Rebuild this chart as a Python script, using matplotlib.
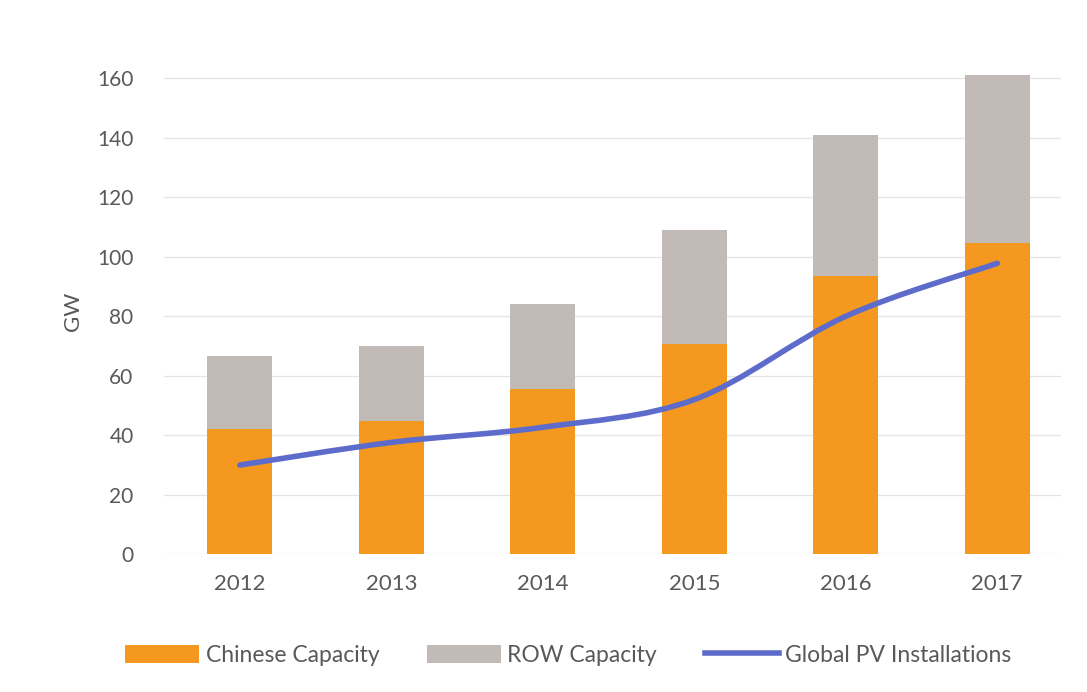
import matplotlib

matplotlib.use("Agg")

import matplotlib.pyplot as plt
import numpy as np
from matplotlib.lines import Line2D
from matplotlib.patches import PathPatch
from matplotlib.path import Path

years = ["2012", "2013", "2014", "2015", "2016", "2017"]
chinese_capacity = [42, 44.7, 55.5, 70.6, 93.4, 104.5]
row_capacity = [24.5, 25.3, 28.5, 38.4, 47.6, 56.5]
global_installs = [30, 37.6, 42.7, 52, 80, 97.8]

ORANGE = "#F4981F"
GRAY = "#C1BAB6"
BLUE = "#5D6CCB"
TEXT = "#595959"

plt.rcParams["font.family"] = ["Lato", "DejaVu Sans"]


def smooth_path(xs, ys):
    # Catmull-Rom style cubic segments through every point (like a smoothed line)
    pts = np.column_stack([xs, ys]).astype(float)
    verts = [pts[0]]
    codes = [Path.MOVETO]
    for i in range(len(pts) - 1):
        p0 = pts[max(i - 1, 0)]
        p1 = pts[i]
        p2 = pts[i + 1]
        p3 = pts[min(i + 2, len(pts) - 1)]
        verts += [p1 + (p2 - p0) / 6, p2 - (p3 - p1) / 6, p2]
        codes += [Path.CURVE4] * 3
    return Path(verts, codes)


fig = plt.figure(figsize=(10.87, 6.92), dpi=100)
ymax = 163
ax = fig.add_axes([0.151, 0.199, 0.825, 0.688 * ymax / 160])

x = np.arange(len(years))
width = 0.43
ax.bar(x, chinese_capacity, width, color=ORANGE, label="Chinese Capacity", zorder=2)
ax.bar(x, row_capacity, width, bottom=chinese_capacity, color=GRAY,
       label="ROW Capacity", zorder=2)
ax.add_patch(PathPatch(smooth_path(x, global_installs), fill=False, edgecolor=BLUE,
                       lw=4, capstyle="round", zorder=3))

ax.set_xlim(-0.5, 5.42)
ax.set_ylim(0, ymax)
ax.set_yticks(np.arange(0, 161, 20))
ax.set_xticks(x)
ax.set_xticklabels(years)
ax.tick_params(length=0, labelsize=15, colors=TEXT)
ax.tick_params(axis="x", labelsize=16, pad=14)
ax.tick_params(axis="y", pad=22)
ax.grid(axis="y", color="#E4E4E4", lw=0.9, zorder=0)
for s in ax.spines.values():
    s.set_visible(False)
ax.set_ylabel("GW", fontsize=16, color=TEXT, labelpad=10)

handles, labels = ax.get_legend_handles_labels()
line_handle = Line2D([], [], color=BLUE, lw=4)
fig.legend(handles + [line_handle], labels + ["Global PV Installations"],
           loc="center", bbox_to_anchor=(0.523, 0.053), ncol=3, frameon=False,
           fontsize=16.5, labelcolor=TEXT, handlelength=3.2, handleheight=0.8,
           handletextpad=0.3, columnspacing=2.1)

fig.savefig("out.png", dpi=100)
plt.close(fig)
